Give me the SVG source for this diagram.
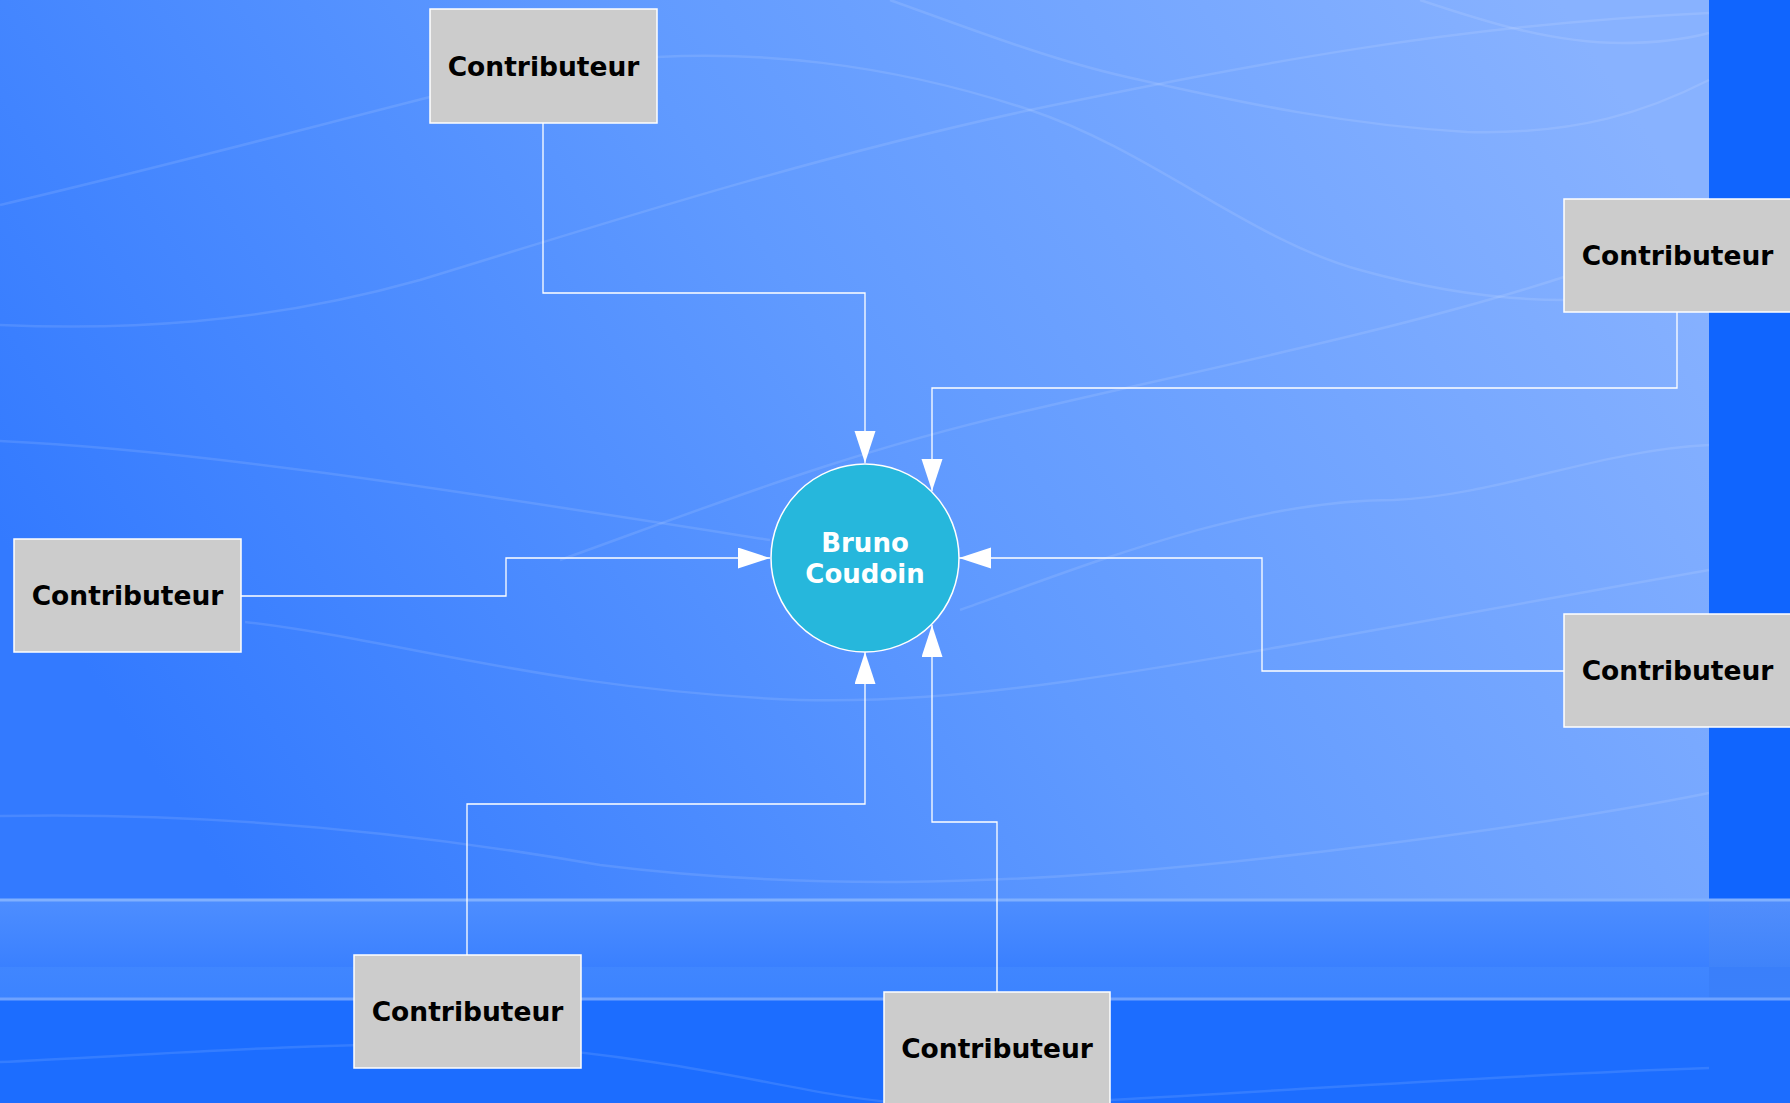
<svg xmlns="http://www.w3.org/2000/svg" width="1790" height="1103" viewBox="0 0 1790 1103">
<defs>
<linearGradient id="bg" x1="0" y1="0.6" x2="1" y2="0.25">
<stop offset="0" stop-color="#337aff"/>
<stop offset="0.5" stop-color="#609aff"/>
<stop offset="1" stop-color="#88b2ff"/>
</linearGradient>
<linearGradient id="band" x1="0" y1="0" x2="0" y2="1">
<stop offset="0" stop-color="#4e8eff"/>
<stop offset="0.68" stop-color="#3a80ff"/>
<stop offset="0.68" stop-color="#4086ff"/>
<stop offset="1" stop-color="#3c83ff"/>
</linearGradient>
<linearGradient id="bandR" x1="0" y1="0" x2="0" y2="1">
<stop offset="0" stop-color="#528efc"/>
<stop offset="0.68" stop-color="#3f83fa"/>
<stop offset="0.68" stop-color="#3a7ffa"/>
<stop offset="1" stop-color="#3a80fa"/>
</linearGradient>
<marker id="arr" markerUnits="userSpaceOnUse" markerWidth="34" markerHeight="22" refX="32" refY="10.5" orient="auto">
<path d="M0,0 L32,10.5 L0,21 z" fill="#ffffff"/>
</marker>
<style>
.box{fill:#cccccc;stroke:#ffffff;stroke-width:1.5}
.lbl{font-family:"DejaVu Sans",sans-serif;font-weight:bold;font-size:26.5px;fill:#000000;text-anchor:middle}
.clbl{font-family:"DejaVu Sans",sans-serif;font-weight:bold;font-size:26px;fill:#ffffff;text-anchor:middle}
.conn{fill:none;stroke:#ffffff;stroke-width:1.3;marker-end:url(#arr)}
.wave{fill:none;stroke:#ffffff;stroke-opacity:0.11;stroke-width:2.5}
</style>
</defs>
<g id="background">
<rect x="0" y="0" width="1790" height="1103" fill="#1c6dff"/>
<rect x="0" y="0" width="1709" height="899" fill="url(#bg)"/>
<rect x="1709" y="0" width="81" height="899" fill="#1065fe"/>
<rect x="0" y="899" width="1709" height="100" fill="url(#band)"/>
<rect x="1709" y="899" width="81" height="100" fill="url(#bandR)"/>
<line x1="0" y1="900" x2="1790" y2="900" stroke="#80b0ff" stroke-width="3"/>
<line x1="0" y1="999" x2="1790" y2="999" stroke="#6ea2ff" stroke-width="3"/>
<path class="wave" d="M0,205 C150,170 300,130 430,97"/>
<path class="wave" d="M657,57 C750,52 880,60 1030,110 C1150,150 1250,240 1360,270 C1450,295 1520,300 1564,300"/>
<path class="wave" d="M0,325 C120,330 260,325 420,280 C600,225 800,160 1030,110 C1250,65 1450,25 1709,13"/>
<path class="wave" d="M890,0 C960,25 1050,60 1127,77 C1250,105 1350,125 1467,132 C1580,135 1650,110 1709,80"/>
<path class="wave" d="M1420,0 C1480,20 1550,43 1621,43 C1660,43 1690,38 1709,33"/>
<path class="wave" d="M560,560 C700,510 850,450 1030,410 C1200,370 1400,330 1564,277"/>
<path class="wave" d="M0,441 C200,450 450,490 770,540"/>
<path class="wave" d="M960,610 C1100,560 1250,500 1394,500 C1500,495 1600,450 1709,445"/>
<path class="wave" d="M245,622 C400,640 550,690 800,700 C1000,705 1200,660 1709,570"/>
<path class="wave" d="M0,816 C200,812 400,830 600,865 C800,890 1000,885 1200,865 C1400,845 1600,815 1709,793" stroke-opacity="0.22"/>
<path class="wave" d="M0,1062 C150,1055 350,1040 500,1045 C700,1060 800,1095 900,1103"/>
<path class="wave" d="M1110,1100 C1300,1090 1500,1075 1709,1068"/>
</g>
<g id="connectors">
<path class="conn" d="M543,123 V293 H865 V463"/>
<path class="conn" d="M1677,312 V388 H932 V491"/>
<path class="conn" d="M241,596 H506 V558 H770"/>
<path class="conn" d="M1564,671 H1262 V558 H959"/>
<path class="conn" d="M467,955 V804 H865 V652"/>
<path class="conn" d="M997,992 V822 H932 V625"/>
</g>
<g id="center">
<circle cx="865" cy="558" r="94" fill="#26b7dc" stroke="#ffffff" stroke-width="1.5"/>
<text class="clbl" x="865" y="552">Bruno</text>
<text class="clbl" x="865" y="583">Coudoin</text>
</g>
<g id="contrib-top">
<rect class="box" x="430" y="9" width="227" height="114"/>
<text class="lbl" x="543.5" y="76">Contributeur</text>
</g>
<g id="contrib-right-top">
<rect class="box" x="1564" y="199" width="227" height="113"/>
<text class="lbl" x="1677.5" y="265">Contributeur</text>
</g>
<g id="contrib-left">
<rect class="box" x="14" y="539" width="227" height="113"/>
<text class="lbl" x="127.5" y="605">Contributeur</text>
</g>
<g id="contrib-right-mid">
<rect class="box" x="1564" y="614" width="227" height="113"/>
<text class="lbl" x="1677.5" y="680">Contributeur</text>
</g>
<g id="contrib-bottom-left">
<rect class="box" x="354" y="955" width="227" height="113"/>
<text class="lbl" x="467.5" y="1021">Contributeur</text>
</g>
<g id="contrib-bottom-right">
<rect class="box" x="884" y="992" width="226" height="114"/>
<text class="lbl" x="997" y="1058">Contributeur</text>
</g>
</svg>
